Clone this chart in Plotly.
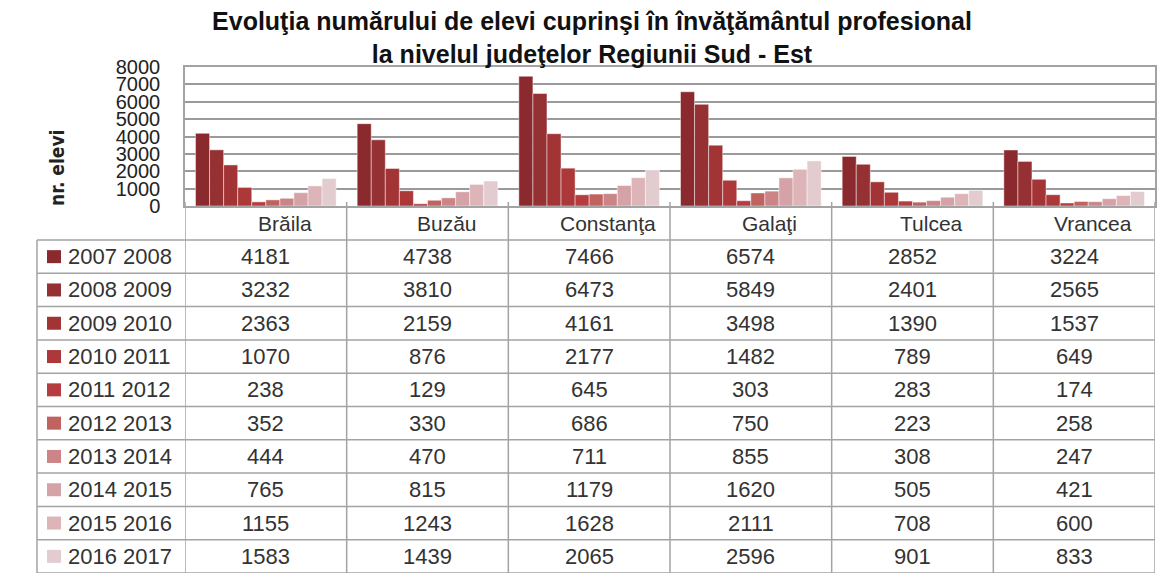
import plotly.graph_objects as go

# date citite din tabel
judete = ["Brăila", "Buzău", "Constanţa", "Galaţi", "Tulcea", "Vrancea"]
ani = ["2007 2008", "2008 2009", "2009 2010", "2010 2011", "2011 2012",
       "2012 2013", "2013 2014", "2014 2015", "2015 2016", "2016 2017"]

v_2007_2008 = [4181, 4738, 7466, 6574, 2852, 3224]
v_2008_2009 = [3232, 3810, 6473, 5849, 2401, 2565]
v_2009_2010 = [2363, 2159, 4161, 3498, 1390, 1537]
v_2010_2011 = [1070, 876, 2177, 1482, 789, 649]
v_2011_2012 = [238, 129, 645, 303, 283, 174]
v_2012_2013 = [352, 330, 686, 750, 223, 258]
v_2013_2014 = [444, 470, 711, 855, 308, 247]
v_2014_2015 = [765, 815, 1179, 1620, 505, 421]
v_2015_2016 = [1155, 1243, 1628, 2111, 708, 600]
v_2016_2017 = [1583, 1439, 2065, 2596, 901, 833]

valori = [v_2007_2008, v_2008_2009, v_2009_2010, v_2010_2011, v_2011_2012,
          v_2012_2013, v_2013_2014, v_2014_2015, v_2015_2016, v_2016_2017]

culori = ["#8a2a2e", "#953033", "#a23436", "#ad383a", "#b63c3f",
          "#c0625f", "#cb8587", "#d4a2a7", "#ddb4b8", "#e3ccd0"]

# pagina are margine de 8px (body), deci figura e mai mica
OFF = 8
PAGE_W, PAGE_H = 1169, 573
W, H = PAGE_W - OFF, PAGE_H - OFF

# pozitii in pixeli de pagina (plot + tabel)
X_PLOT0, X_PLOT1 = 185, 1155
Y_PLOT0, Y_PLOT1 = 67, 206
X_TAB0 = 37
Y_HEAD1 = 240
ROW_H = 33.3
GRID = "#a3a3a3"
FONT = "Liberation Sans, Arial, sans-serif"
TXT = "#333333"


# pixeli -> coordonate "paper" (relative la zona de plot)
def py(y):
    return (Y_PLOT1 - y) / (Y_PLOT1 - Y_PLOT0)


def px(x):
    return (x - X_PLOT0) / (X_PLOT1 - X_PLOT0)


fig = go.Figure()
for nume, vals, c in zip(ani, valori, culori):
    fig.add_trace(go.Bar(x=list(range(len(judete))), y=vals, name=nume,
                         marker=dict(color=c, line=dict(color="rgba(255,255,255,0.45)", width=1))))

shapes = []
ann = []

# linii orizontale tabel
for i in range(len(ani) + 1):
    y = Y_HEAD1 + i * ROW_H
    shapes.append(dict(type="line", xref="paper", yref="paper",
                       x0=px(X_TAB0), x1=px(X_PLOT1), y0=py(y), y1=py(y),
                       line=dict(color=GRID, width=1.5)))
# linii verticale
shapes.append(dict(type="line", xref="paper", yref="paper", x0=px(X_TAB0), x1=px(X_TAB0),
                   y0=py(Y_HEAD1), y1=py(PAGE_H), line=dict(color=GRID, width=1.5)))
for k in range(len(judete) + 1):
    shapes.append(dict(type="line", xref="x", yref="paper", x0=k - 0.5, x1=k - 0.5,
                       y0=py(Y_PLOT1 - 4), y1=py(PAGE_H), line=dict(color=GRID, width=1.5)))

# antet judete
for k, j in enumerate(judete):
    ann.append(dict(x=k, y=py((Y_PLOT1 + Y_HEAD1) / 2), xref="x", yref="paper", text=j,
                    xanchor="center", yanchor="middle", showarrow=False, xshift=19,
                    font=dict(size=21, color=TXT, family=FONT)))

# randuri
for i, (nume, vals, c) in enumerate(zip(ani, valori, culori)):
    yc = Y_HEAD1 + (i + 0.5) * ROW_H
    shapes.append(dict(type="rect", xref="paper", yref="paper", line=dict(width=0),
                       x0=px(47), x1=px(61), y0=py(yc + 6.5), y1=py(yc - 6.5), fillcolor=c))
    ann.append(dict(x=px(66), y=py(yc), xref="paper", yref="paper", text=nume,
                    xanchor="left", yanchor="middle", showarrow=False,
                    font=dict(size=22, color=TXT, family=FONT)))
    for k, v in enumerate(vals):
        ann.append(dict(x=k, y=py(yc), xref="x", yref="paper", text=str(v),
                        xanchor="center", yanchor="middle", showarrow=False,
                        font=dict(size=22, color=TXT, family=FONT)))

# titlu axa y
ann.append(dict(x=px(57), y=py(168), xref="paper", yref="paper", text="<b>nr. elevi</b>",
                xanchor="center", yanchor="middle", textangle=-90, showarrow=False,
                font=dict(size=19, color="#222222",
                          family="Liberation Sans Narrow, DejaVu Sans Condensed, sans-serif")))

fig.update_layout(
    width=W, height=H, autosize=False,
    margin=dict(l=X_PLOT0 - OFF, r=W - (X_PLOT1 - OFF), t=Y_PLOT0 - OFF, b=H - (Y_PLOT1 - OFF)),
    paper_bgcolor="white", plot_bgcolor="white",
    title=dict(text="<b>Evoluţia numărului de elevi cuprinşi în învăţământul profesional<br>"
                    "la nivelul judeţelor Regiunii Sud - Est</b>",
               x=(592 - OFF) / W, xanchor="center", y=1 - 22 / H, yanchor="middle",
               font=dict(size=25, color="#111111", family=FONT)),
    barmode="group", bargap=0.13, bargroupgap=0,
    showlegend=False,
    shapes=shapes, annotations=ann,
    xaxis=dict(range=[-0.5, len(judete) - 0.5], showticklabels=False, showgrid=False,
               showline=True, linecolor=GRID, linewidth=1.5, mirror=True, zeroline=False, fixedrange=True),
    yaxis=dict(range=[0, 8000], dtick=1000, showgrid=True, gridcolor="#9a9a9a", gridwidth=2,
               showline=True, linecolor=GRID, linewidth=1.5, mirror=True, zeroline=False,
               tickfont=dict(size=20, color="#222222", family=FONT), ticklabelstandoff=19),
)

fig.write_html("out.html")
